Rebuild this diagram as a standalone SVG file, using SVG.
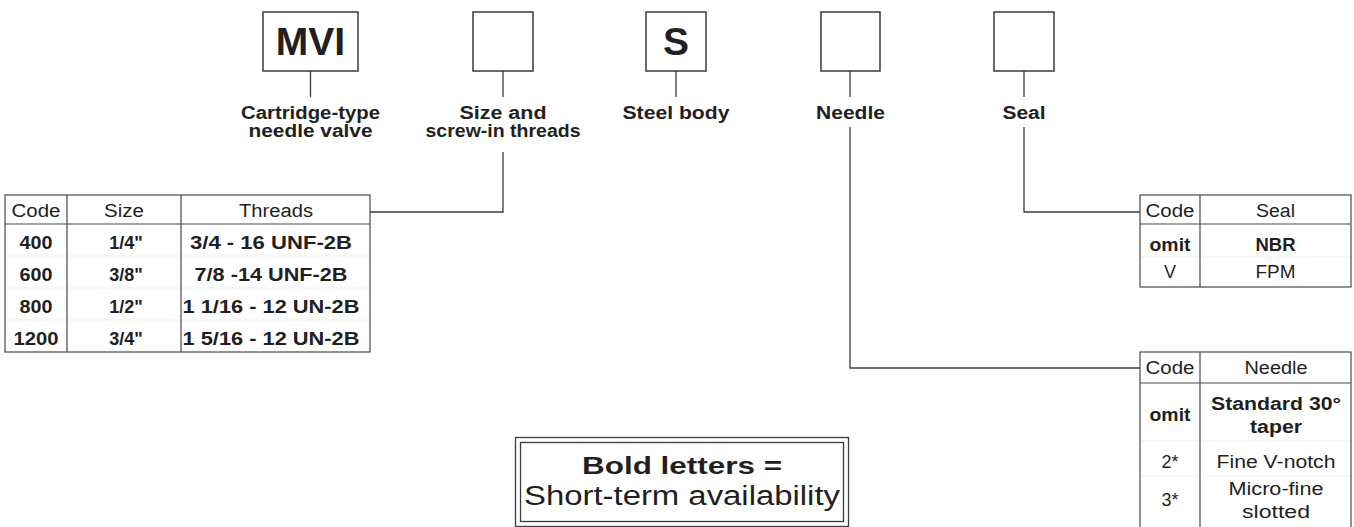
<svg xmlns="http://www.w3.org/2000/svg" width="1354" height="527" viewBox="0 0 1354 527">
<style>
text{font-family:"Liberation Sans",Arial,sans-serif;fill:#231f20;text-anchor:middle}
.b{font-weight:bold}
.lbl{font-size:18px;font-weight:bold}
.big{font-size:39px;font-weight:bold}
.t{font-size:18px}
.box{fill:#fff;stroke:#3a3a3a;stroke-width:1.5}
.grid{fill:none;stroke:#4a4a4a;stroke-width:1.2}
.faint{stroke:#efefef;stroke-width:1}
.con{fill:none;stroke:#3a3a3a;stroke-width:1.3}
</style>
<rect width="1354" height="527" fill="#fff"/>
<g id="connectors">
<path class="con" d="M310.5 71V97"/>
<path class="con" d="M503 71V97M503 152V212H370"/>
<path class="con" d="M676 71V97"/>
<path class="con" d="M850 71V97M850 127V368H1140"/>
<path class="con" d="M1024 71V97M1024 127V212H1140"/>
</g>
<g id="node-mvi">
<rect class="box" x="263" y="12" width="95" height="59"/>
<text class="big" x="310.5" y="55">MVI</text>
<text class="lbl" x="310.5" y="119" textLength="139" lengthAdjust="spacingAndGlyphs">Cartridge-type</text>
<text class="lbl" x="310.5" y="137" textLength="124" lengthAdjust="spacingAndGlyphs">needle valve</text>
</g>
<g id="node-size">
<rect class="box" x="473" y="12" width="60" height="59"/>
<text class="lbl" x="503" y="119" textLength="87" lengthAdjust="spacingAndGlyphs">Size and</text>
<text class="lbl" x="503" y="137" textLength="155" lengthAdjust="spacingAndGlyphs">screw-in threads</text>
</g>
<g id="node-steel">
<rect class="box" x="646" y="12" width="60" height="59"/>
<text class="big" x="676" y="55">S</text>
<text class="lbl" x="676" y="119" textLength="107" lengthAdjust="spacingAndGlyphs">Steel body</text>
</g>
<g id="node-needle">
<rect class="box" x="821" y="12" width="59" height="59"/>
<text class="lbl" x="850.5" y="119" textLength="69" lengthAdjust="spacingAndGlyphs">Needle</text>
</g>
<g id="node-seal">
<rect class="box" x="994" y="12" width="60" height="59"/>
<text class="lbl" x="1024" y="119" textLength="43" lengthAdjust="spacingAndGlyphs">Seal</text>
</g>
<g id="table-size">
<line class="faint" x1="5" y1="256" x2="370" y2="256"/>
<line class="faint" x1="5" y1="288" x2="370" y2="288"/>
<line class="faint" x1="5" y1="320" x2="370" y2="320"/>
<rect class="grid" x="5" y="195" width="365" height="157"/>
<line class="grid" x1="5" y1="224" x2="370" y2="224"/>
<line class="grid" x1="67" y1="195" x2="67" y2="352"/>
<line class="grid" x1="181" y1="195" x2="181" y2="352"/>
<text class="t" x="36" y="217" textLength="49" lengthAdjust="spacingAndGlyphs">Code</text>
<text class="t" x="124" y="217" textLength="40" lengthAdjust="spacingAndGlyphs">Size</text>
<text class="t" x="276" y="217" textLength="74" lengthAdjust="spacingAndGlyphs">Threads</text>
<text class="t b" x="36" y="249" textLength="33" lengthAdjust="spacingAndGlyphs">400</text>
<text class="t b" x="126" y="249">1/4"</text>
<text class="t b" x="271" y="249" textLength="162" lengthAdjust="spacingAndGlyphs">3/4 - 16 UNF-2B</text>
<text class="t b" x="36" y="281" textLength="33" lengthAdjust="spacingAndGlyphs">600</text>
<text class="t b" x="126" y="281">3/8"</text>
<text class="t b" x="271" y="281" textLength="153" lengthAdjust="spacingAndGlyphs">7/8 -14 UNF-2B</text>
<text class="t b" x="36" y="313" textLength="33" lengthAdjust="spacingAndGlyphs">800</text>
<text class="t b" x="126" y="313">1/2"</text>
<text class="t b" x="271" y="313" textLength="177" lengthAdjust="spacingAndGlyphs">1 1/16 - 12 UN-2B</text>
<text class="t b" x="36" y="345" textLength="45" lengthAdjust="spacingAndGlyphs">1200</text>
<text class="t b" x="126" y="345">3/4"</text>
<text class="t b" x="271" y="345" textLength="177" lengthAdjust="spacingAndGlyphs">1 5/16 - 12 UN-2B</text>
</g>
<g id="table-seal">
<line class="faint" x1="1140" y1="257" x2="1351" y2="257"/>
<rect class="grid" x="1140" y="195" width="211" height="92"/>
<line class="grid" x1="1140" y1="224" x2="1351" y2="224"/>
<line class="grid" x1="1200" y1="195" x2="1200" y2="287"/>
<text class="t" x="1170" y="217" textLength="49" lengthAdjust="spacingAndGlyphs">Code</text>
<text class="t" x="1275.5" y="217" textLength="39" lengthAdjust="spacingAndGlyphs">Seal</text>
<text class="t b" x="1170" y="251" textLength="41" lengthAdjust="spacingAndGlyphs">omit</text>
<text class="t b" x="1275.5" y="251" textLength="40" lengthAdjust="spacingAndGlyphs">NBR</text>
<text class="t" x="1170" y="278">V</text>
<text class="t" x="1275.5" y="278" textLength="40" lengthAdjust="spacingAndGlyphs">FPM</text>
</g>
<g id="table-needle">
<line class="faint" x1="1140" y1="441" x2="1351" y2="441"/>
<line class="faint" x1="1140" y1="476" x2="1351" y2="476"/>
<rect class="grid" x="1140" y="352" width="211" height="180"/>
<line class="grid" x1="1140" y1="383" x2="1351" y2="383"/>
<line class="grid" x1="1200" y1="352" x2="1200" y2="532"/>
<text class="t" x="1170" y="374" textLength="49" lengthAdjust="spacingAndGlyphs">Code</text>
<text class="t" x="1276" y="374" textLength="63" lengthAdjust="spacingAndGlyphs">Needle</text>
<text class="t b" x="1170" y="421" textLength="41" lengthAdjust="spacingAndGlyphs">omit</text>
<text class="t b" x="1276" y="410" textLength="130" lengthAdjust="spacingAndGlyphs">Standard 30°</text>
<text class="t b" x="1276" y="433" textLength="52" lengthAdjust="spacingAndGlyphs">taper</text>
<text class="t" x="1170" y="468">2*</text>
<text class="t" x="1276" y="468" textLength="119" lengthAdjust="spacingAndGlyphs">Fine V-notch</text>
<text class="t" x="1170" y="506">3*</text>
<text class="t" x="1276" y="495" textLength="95" lengthAdjust="spacingAndGlyphs">Micro-fine</text>
<text class="t" x="1276" y="518" textLength="68" lengthAdjust="spacingAndGlyphs">slotted</text>
</g>
<g id="legend">
<rect fill="none" stroke="#3a3a3a" stroke-width="1.3" x="515.5" y="437.5" width="333" height="89"/>
<rect fill="none" stroke="#3a3a3a" stroke-width="1.3" x="520.5" y="442.5" width="323" height="79"/>
<text class="b" x="682" y="474" font-size="24" textLength="200" lengthAdjust="spacingAndGlyphs">Bold letters =</text>
<text x="682" y="505" font-size="27" textLength="316" lengthAdjust="spacingAndGlyphs">Short-term availability</text>
</g>
</svg>
